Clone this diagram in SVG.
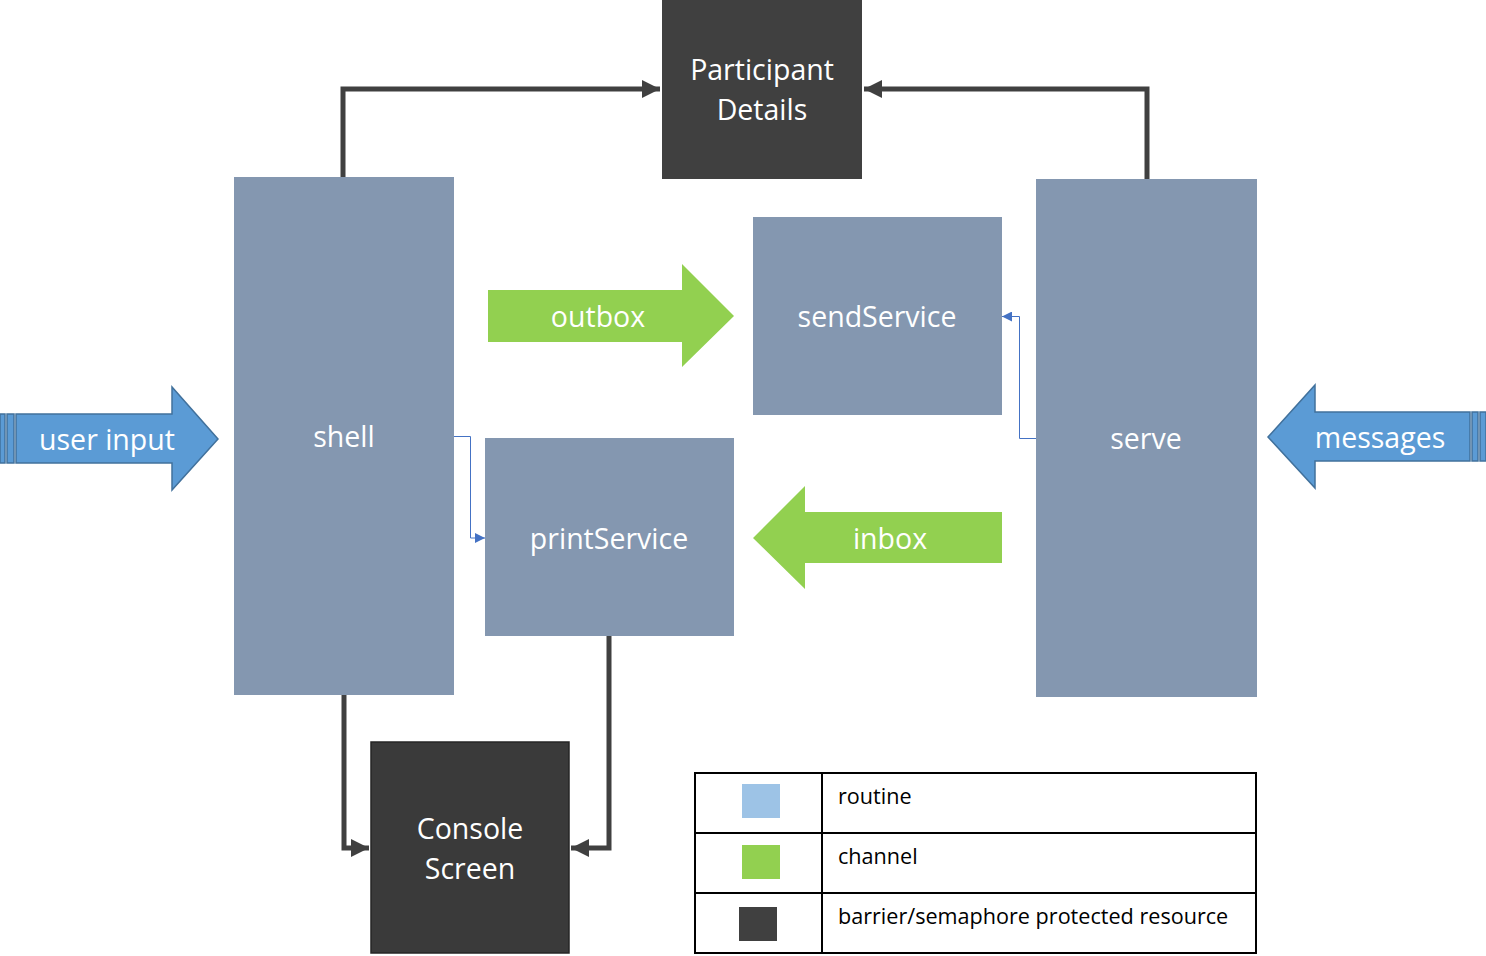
<svg xmlns="http://www.w3.org/2000/svg" width="1486" height="956" viewBox="0 0 1486 956">
<style>
.routine{fill:#8497b0}
.res{fill:#404040}
.lbl{font-family:"Open Sans","Liberation Sans",sans-serif;font-size:28.5px;fill:#ffffff;text-anchor:middle}
.conn{fill:none;stroke:#404040;stroke-width:5}
.thin{fill:none;stroke:#4472c4;stroke-width:1}
.chan{fill:#92d050}
.ext{fill:#5b9bd5;stroke:#41719c;stroke-width:1.5}
.leg{font-family:"Open Sans","Liberation Sans",sans-serif;font-size:21.6px;fill:#000}
</style>
<defs>
<marker id="ah" viewBox="0 0 10 10" refX="10" refY="5" markerWidth="3.6" markerHeight="3.6" orient="auto" markerUnits="strokeWidth">
<path d="M0,0 L10,5 L0,10 z" fill="#404040"/>
</marker>
<marker id="bh" viewBox="0 0 10 10" refX="10" refY="5" markerWidth="12" markerHeight="10" orient="auto" markerUnits="userSpaceOnUse">
<path d="M0,0 L10,5 L0,10 z" fill="#4472c4"/>
</marker>
</defs>
<rect width="1486" height="956" fill="#ffffff"/>
<g id="connectors">
<path class="conn" d="M343,177 V89 H660" marker-end="url(#ah)"/>
<path class="conn" d="M1147,179 V89 H864" marker-end="url(#ah)"/>
<path class="conn" d="M344,695 V848 H369" marker-end="url(#ah)"/>
<path class="conn" d="M609,636 V848 H571" marker-end="url(#ah)"/>
<path class="thin" d="M454,436.5 H470.5 V538 H485" marker-end="url(#bh)"/>
<path class="thin" d="M1036,438.5 H1019.5 V316.5 H1002" marker-end="url(#bh)"/>
</g>
<g id="participant-details">
<rect class="res" x="662" y="0" width="200" height="179"/>
<text class="lbl" x="762" y="80">Participant</text>
<text class="lbl" x="762" y="120">Details</text>
</g>
<g id="shell">
<rect class="routine" x="234" y="177" width="220" height="518"/>
<text class="lbl" x="344" y="447">shell</text>
</g>
<g id="serve">
<rect class="routine" x="1036" y="179" width="221" height="518"/>
<text class="lbl" x="1146" y="449">serve</text>
</g>
<g id="sendService">
<rect class="routine" x="753" y="217" width="249" height="198"/>
<text class="lbl" x="877" y="327">sendService</text>
</g>
<g id="printService">
<rect class="routine" x="485" y="438" width="249" height="198"/>
<text class="lbl" x="609" y="549">printService</text>
</g>
<g id="console-screen">
<rect x="371" y="742" width="198" height="211" fill="#3a3a3a" stroke="#262626" stroke-width="1.5"/>
<text class="lbl" x="470" y="839">Console</text>
<text class="lbl" x="470" y="879">Screen</text>
</g>
<g id="outbox">
<polygon class="chan" points="488,290 682,290 682,264 734,316 682,367 682,342 488,342"/>
<text class="lbl" x="598" y="327">outbox</text>
</g>
<g id="inbox">
<polygon class="chan" points="1002,512 805,512 805,486 753,538 805,589 805,563 1002,563"/>
<text class="lbl" x="890" y="549">inbox</text>
</g>
<g id="user-input">
<rect class="ext" x="0" y="414" width="5" height="49"/>
<rect class="ext" x="7" y="414" width="7" height="49"/>
<polygon class="ext" points="16,414 172,414 172,387 218,439 172,490 172,463 16,463"/>
<text class="lbl" x="107" y="450">user input</text>
</g>
<g id="messages">
<polygon class="ext" points="1470,412 1315,412 1315,385 1268,437 1315,488 1315,461 1470,461"/>
<rect class="ext" x="1472" y="412" width="6" height="49"/>
<rect class="ext" x="1480" y="412" width="6" height="49"/>
<text class="lbl" x="1380" y="448">messages</text>
</g>
<g id="legend">
<rect x="695" y="773" width="561" height="180" fill="#ffffff" stroke="#000" stroke-width="2"/>
<line x1="822" y1="773" x2="822" y2="953" stroke="#000" stroke-width="2"/>
<line x1="695" y1="833" x2="1256" y2="833" stroke="#000" stroke-width="2"/>
<line x1="695" y1="893" x2="1256" y2="893" stroke="#000" stroke-width="2"/>
<rect x="742" y="784" width="38" height="34" fill="#9dc3e6"/>
<rect x="742" y="845" width="38" height="34" fill="#92d050"/>
<rect x="739" y="907" width="38" height="34" fill="#404040"/>
<text class="leg" x="838" y="804">routine</text>
<text class="leg" x="838" y="864">channel</text>
<text class="leg" x="838" y="924">barrier/semaphore protected resource</text>
</g>
</svg>
